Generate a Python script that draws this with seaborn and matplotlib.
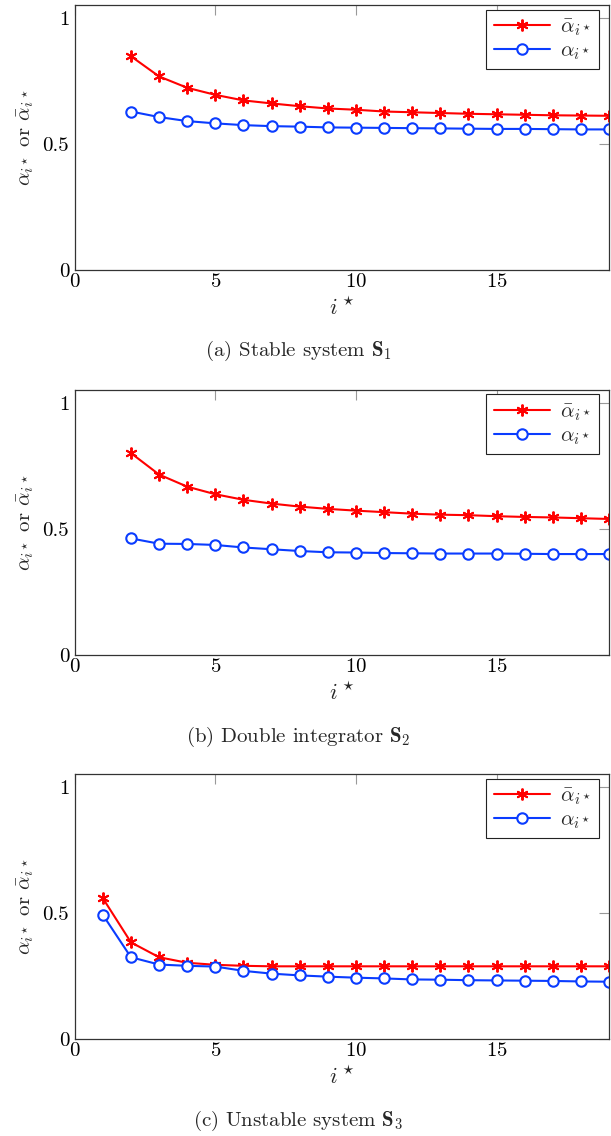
import numpy as np
import pandas as pd
import seaborn as sns
import matplotlib.pyplot as plt

# Values
i_ab = list(range(2, 20))
i_c = list(range(1, 20))

bar_a = [0.847, 0.767, 0.722, 0.694, 0.672, 0.660, 0.649, 0.640, 0.635, 0.628,
         0.625, 0.622, 0.619, 0.617, 0.615, 0.613, 0.612, 0.611]
alpha_a = [0.628, 0.606, 0.590, 0.581, 0.574, 0.570, 0.568, 0.565, 0.564, 0.563,
           0.562, 0.561, 0.560, 0.559, 0.559, 0.558, 0.557, 0.557]

bar_b = [0.800, 0.715, 0.667, 0.637, 0.615, 0.600, 0.588, 0.579, 0.572, 0.566,
         0.560, 0.556, 0.554, 0.550, 0.547, 0.545, 0.542, 0.539]
alpha_b = [0.462, 0.441, 0.440, 0.436, 0.426, 0.419, 0.412, 0.407, 0.406, 0.404,
           0.403, 0.402, 0.402, 0.402, 0.401, 0.400, 0.400, 0.400]

bar_c = [0.558, 0.383, 0.324, 0.302, 0.294, 0.290, 0.288, 0.288, 0.288, 0.288,
         0.288, 0.288, 0.288, 0.288, 0.288, 0.288, 0.288, 0.288, 0.288]
alpha_c = [0.492, 0.324, 0.295, 0.290, 0.287, 0.270, 0.259, 0.252, 0.247, 0.243,
           0.240, 0.236, 0.235, 0.233, 0.232, 0.231, 0.230, 0.228, 0.227]

captions = [r"(a) Stable system $\mathbf{S}_1$",
            r"(b) Double integrator $\mathbf{S}_2$",
            r"(c) Unstable system $\mathbf{S}_3$"]

panels = [(i_ab, bar_a, alpha_a), (i_ab, bar_b, alpha_b), (i_c, bar_c, alpha_c)]

sns.set_style("white")
plt.rcParams['font.family'] = ['cmr10', 'DejaVu Serif']
plt.rcParams['mathtext.fontset'] = 'cm'
plt.rcParams['axes.formatter.use_mathtext'] = True
plt.rcParams['axes.unicode_minus'] = False

fig = plt.figure(figsize=(6.11, 11.36), dpi=100)

W, H = 611, 1136
left, right = 74.7, 609
tops = [5, 390, 774]
ax_h = 265
cap_y = [351, 737, 1121]

red = '#ff0000'
blue = '#0a3cff'

for k, (xs, ybar, yal) in enumerate(panels):
    top = tops[k]
    ax = fig.add_axes([left / W, 1 - (top + ax_h) / H, (right - left) / W, ax_h / H])

    df = pd.DataFrame({'i': xs, 'bar': ybar, 'alpha': yal})
    sns.lineplot(data=df, x='i', y='bar', ax=ax, color=red, lw=1.5,
                 marker=(6, 2, 0), markersize=8.5, markeredgewidth=1.4,
                 markeredgecolor=red, label=r'$\bar{\alpha}_{i^\star}$')
    sns.lineplot(data=df, x='i', y='alpha', ax=ax, color=blue, lw=1.5,
                 marker='o', markersize=7.5, markeredgewidth=1.5,
                 markeredgecolor=blue, markerfacecolor='white',
                 label=r'$\alpha_{i^\star}$')

    ax.set_xlim(0, 19)
    ax.set_ylim(0, 1.05)
    ax.set_xticks([0, 5, 10, 15])
    ax.set_yticks([0, 0.5, 1])
    ax.set_yticklabels(['0', '0.5', '1'])
    ax.tick_params(direction='in', top=True, right=True, length=7, width=0.8,
                   color='#999999', labelsize=15, labelcolor='black')
    ax.tick_params(axis='x', pad=2)
    ax.tick_params(axis='y', pad=4)
    for s in ax.spines.values():
        s.set_color('#333333')
        s.set_linewidth(0.9)

    ax.set_xlabel(r'$i^\star$', fontsize=16, labelpad=4)
    ax.set_ylabel(r'$\alpha_{i^\star}$ or $\bar{\alpha}_{i^\star}$', fontsize=15, labelpad=5)

    leg = ax.legend(loc='upper right', bbox_to_anchor=(1 - 10 / 534, 1 - 4.5 / 265),
                    borderaxespad=0, fontsize=15, handlelength=2.7, handletextpad=0.5,
                    borderpad=0.35, labelspacing=0.2, fancybox=False, framealpha=1,
                    edgecolor='#222222')
    leg.get_frame().set_linewidth(0.8)

    fig.text(298 / W, 1 - cap_y[k] / H, captions[k], ha='center', va='center', fontsize=15)

fig.savefig('out.png', dpi=100)
